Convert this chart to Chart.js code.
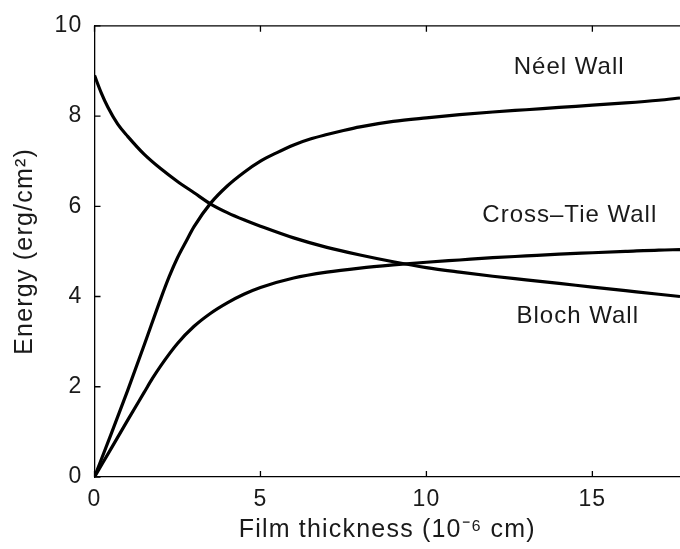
<!DOCTYPE html>
<html>
<head>
<meta charset="utf-8">
<script src="https://cdn.jsdelivr.net/npm/chart.js@4/dist/chart.umd.min.js"></script>
<style>
  html, body { margin: 0; padding: 0; background: #fff; }
  #wrap { width: 680px; height: 549px; }
</style>
</head>
<body>
<div id="wrap"><canvas id="c" width="680" height="549"></canvas></div>
<script>
// Film thickness (10^-6 cm) sample positions for each curve, energies
const xDecreasing = [0, 0.2, 0.4, 0.7, 1, 1.5, 2, 2.5, 3, 3.5, 4, 4.5, 5, 6, 7, 8, 9, 10, 11, 12, 13, 14, 15, 16, 17, 17.64];
const yDecreasing = [8.9, 8.52, 8.2, 7.82, 7.55, 7.15, 6.83, 6.55, 6.3, 6.05, 5.86, 5.7, 5.56, 5.3, 5.09, 4.92, 4.77, 4.64, 4.54, 4.45, 4.37, 4.29, 4.21, 4.13, 4.05, 4.0];

const xUpper = [0, 0.5, 1, 1.5, 2, 2.25, 2.5, 2.75, 3, 3.5, 4, 4.5, 5, 5.5, 6, 6.5, 7, 7.5, 8, 9, 10, 11, 12, 13, 14, 15, 16, 17, 17.64];
const yUpper = [0, 0.95, 1.92, 2.93, 3.96, 4.44, 4.86, 5.21, 5.55, 6.07, 6.45, 6.75, 7.0, 7.19, 7.36, 7.49, 7.59, 7.68, 7.76, 7.88, 7.96, 8.03, 8.09, 8.14, 8.19, 8.24, 8.29, 8.35, 8.4];

const xLower = [0, 0.5, 1, 1.5, 1.75, 2, 2.5, 3, 3.5, 4, 4.5, 5, 6, 7, 8, 9, 10, 11, 12, 13, 14, 15, 16, 17, 17.64];
const yLower = [0, 0.63, 1.26, 1.88, 2.19, 2.47, 2.96, 3.34, 3.63, 3.86, 4.05, 4.2, 4.41, 4.54, 4.63, 4.7, 4.76, 4.81, 4.86, 4.9, 4.94, 4.97, 5.0, 5.03, 5.04];

// Tick values
const xTickValues = [0, 5, 10, 15];
const yTickValues = [0, 2, 4, 6, 8, 10];

// Curve annotations (text, x, y in data units)
const annotationTexts = ['Néel Wall', 'Cross–Tie Wall', 'Bloch Wall'];
const annotationX = [14.3, 14.32, 14.56];
const annotationY = [9.07, 5.8, 3.57];

const xTitle = 'Film thickness (10⁻⁶ cm)';
const yTitle = 'Energy (erg/cm²)';

const FONT = "'Liberation Sans', Arial, Helvetica, sans-serif";
const INK = '#1a1a1a';

function pts(xs, ys) { return xs.map((x, i) => ({x: x, y: ys[i]})); }

const spacingPlugin = {
  id: 'spacing',
  beforeDraw(chart) {
    chart.ctx.letterSpacing = '1.2px';
  }
};

const framePlugin = {
  id: 'frame',
  afterDraw(chart) {
    const {ctx, chartArea: a, scales} = chart;
    ctx.save();
    ctx.strokeStyle = '#000';
    ctx.lineWidth = 1.3;
    ctx.beginPath();
    ctx.moveTo(a.left, a.top);
    ctx.lineTo(a.right + 2, a.top);
    ctx.stroke();
    const L = 6;
    ctx.beginPath();
    scales.x.ticks.forEach(t => {
      const px = scales.x.getPixelForValue(t.value);
      ctx.moveTo(px, a.bottom); ctx.lineTo(px, a.bottom - L);
      ctx.moveTo(px, a.top); ctx.lineTo(px, a.top + L);
    });
    scales.y.ticks.forEach(t => {
      const py = scales.y.getPixelForValue(t.value);
      ctx.moveTo(a.left, py); ctx.lineTo(a.left + L, py);
    });
    ctx.stroke();
    // annotations
    ctx.fillStyle = INK;
    ctx.font = '24px ' + FONT;
    ctx.letterSpacing = '1px';
    ctx.textAlign = 'center';
    ctx.textBaseline = 'middle';
    annotationTexts.forEach((s, i) => {
      ctx.fillText(s, scales.x.getPixelForValue(annotationX[i]), scales.y.getPixelForValue(annotationY[i]));
    });
    ctx.restore();
  }
};

const lineStyle = {
  borderColor: '#000',
  borderWidth: 3.2,
  pointRadius: 0,
  showLine: true,
  fill: false,
  cubicInterpolationMode: 'monotone'
};

new Chart(document.getElementById('c'), {
  type: 'scatter',
  data: {
    datasets: [
      Object.assign({label: 'Decreasing', data: pts(xDecreasing, yDecreasing)}, lineStyle),
      Object.assign({label: 'Upper', data: pts(xUpper, yUpper)}, lineStyle),
      Object.assign({label: 'Lower', data: pts(xLower, yLower)}, lineStyle)
    ]
  },
  options: {
    responsive: false,
    animation: false,
    layout: { padding: { top: 17, left: 0, right: 0, bottom: 0 } },
    plugins: { legend: { display: false }, tooltip: { enabled: false } },
    scales: {
      x: {
        type: 'linear',
        min: 0,
        max: 17.64,
        afterBuildTicks(scale) { scale.ticks = xTickValues.map(v => ({value: v})); },
        afterFit(scale) { scale.height = 72; },
        ticks: { color: INK, font: { family: FONT, size: 23 }, padding: 9, maxRotation: 0, includeBounds: false },
        grid: { display: true, drawOnChartArea: false, drawTicks: false },
        border: { display: true, color: '#000', width: 1.3 },
        title: { display: true, text: xTitle, color: INK, font: { family: FONT, size: 25 }, padding: { top: 0, bottom: 4 } }
      },
      y: {
        type: 'linear',
        min: 0,
        max: 10,
        afterBuildTicks(scale) { scale.ticks = yTickValues.map(v => ({value: v})); },
        afterFit(scale) { scale.width = 94.5; },
        ticks: { color: INK, font: { family: FONT, size: 23 }, padding: 12 },
        grid: { display: true, drawOnChartArea: false, drawTicks: false },
        border: { display: true, color: '#000', width: 1.3 },
        title: { display: true, text: yTitle, color: INK, font: { family: FONT, size: 25 }, padding: { top: 10, bottom: 0 } }
      }
    }
  },
  plugins: [spacingPlugin, framePlugin]
});
</script>
</body>
</html>
